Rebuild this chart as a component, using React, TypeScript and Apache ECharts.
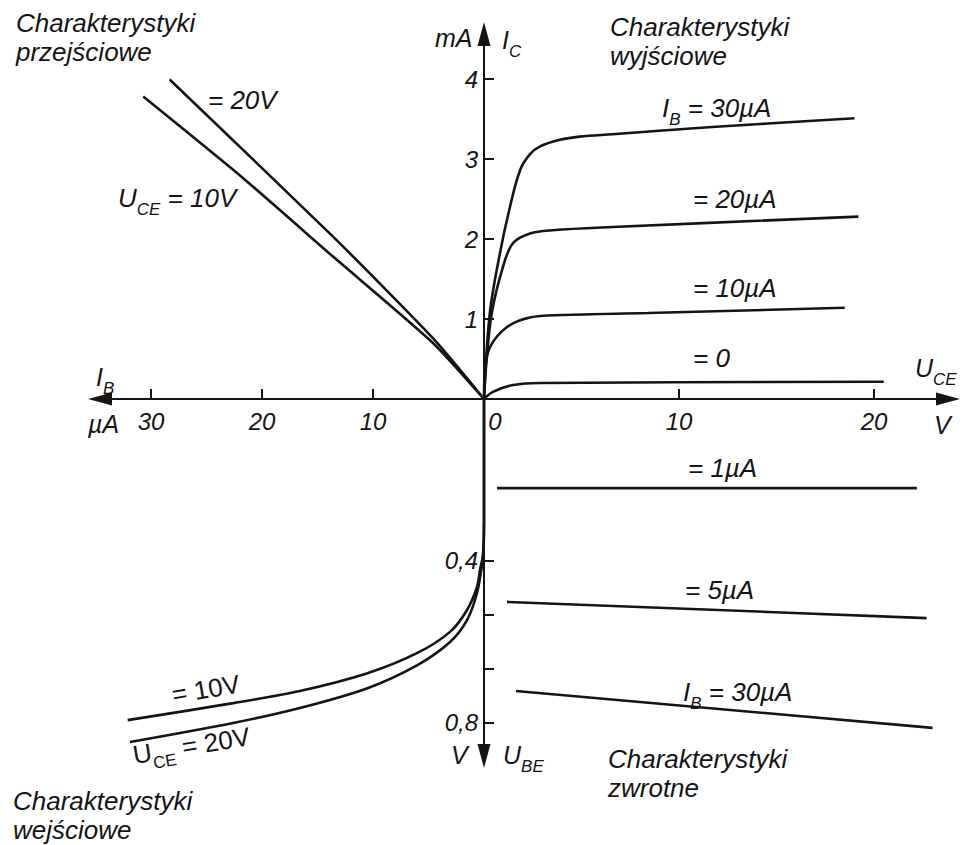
import React, { useEffect, useRef } from 'react';
import * as echarts from 'echarts';

const FONT = '"Liberation Sans", Arial, Helvetica, sans-serif';
const INK = '#141414';

// Quadrant I – output characteristics, I_C [mA] vs U_CE [V]
const out30: number[][] = [[0, 0], [0.3, 1.075], [0.82, 1.825], [1.33, 2.4], [1.85, 2.86], [2.36, 3.06], [2.9, 3.16], [3.9, 3.24], [4.9, 3.28], [6.6, 3.31], [11.7, 3.4], [19.0, 3.51]];
const out20: number[][] = [[0, 0], [0.12, 0.45], [0.4, 1.075], [0.97, 1.65], [1.49, 1.95], [2.36, 2.07], [3.5, 2.11], [6.6, 2.15], [19.2, 2.28]];
const out10: number[][] = [[0, 0], [0.05, 0.36], [0.31, 0.65], [1.18, 0.9], [2.36, 1.02], [4.0, 1.05], [8.4, 1.075], [18.5, 1.14]];
const out0: number[][] = [[0, 0], [0.46, 0.09], [1.5, 0.175], [2.9, 0.2], [20.5, 0.215]];

// Quadrant II – transfer characteristics, I_C [mA] vs I_B [µA]
const tr20: number[][] = [[0, 0], [4.6, 0.76], [13.6, 2.03], [28.3, 3.99]];
const tr10: number[][] = [[0, 0], [4.6, 0.7], [13.6, 1.78], [21.7, 2.76], [30.7, 3.78]];

// Quadrant III – input characteristics, U_BE [V] vs I_B [µA]
const in10: number[][] = [[32.1, 0.793], [22.6, 0.751], [16.6, 0.721], [10.5, 0.677], [6.0, 0.627], [3.06, 0.575], [1.53, 0.521], [0.63, 0.464], [0.36, 0.422], [0.09, 0.385], [0, 0.3], [0, 0]];
const in20: number[][] = [[31.9, 0.847], [22.6, 0.8], [16.6, 0.763], [10.5, 0.714], [6.0, 0.657], [3.06, 0.6], [1.53, 0.546], [0.63, 0.479], [0.18, 0.41], [0.05, 0.373], [0, 0.3], [0, 0]];

// Quadrant IV – feedback characteristics, U_BE [V] vs U_CE [V]
const fb1: number[][] = [[0.67, 0.22], [22.2, 0.22]];
const fb5: number[][] = [[1.18, 0.501], [22.7, 0.541]];
const fb30: number[][] = [[1.64, 0.721], [23.0, 0.812]];

// ticks / labels
const uceTicks = [10, 20];
const uceLabels = [0, 10, 20];
const icTicks = [1, 2, 3, 4];
const ibTicks = [10, 20, 30];
const ubeTicks = [0.4, 0.5333, 0.6667, 0.8];
const ubeLabels = [0.4, 0.8];

const labelStyle = { fontFamily: FONT, fontStyle: 'italic', fontSize: 24, color: INK };
const lineSt = { color: INK, width: 2 };

const rich = (italic: boolean, size = 26) => ({
  n: { fontSize: size, fontFamily: FONT, fontStyle: italic ? 'italic' : 'normal', fill: INK, lineHeight: 40 },
  s: { fontSize: Math.round(size * 0.66), fontFamily: FONT, fontStyle: italic ? 'italic' : 'normal', fill: INK, lineHeight: 22, verticalAlign: 'bottom' },
});

const txt = (x: number, y: number, text: string, o: any = {}) => ({
  type: 'text', x, y, rotation: o.rotation || 0, silent: true,
  style: {
    text, fill: INK, fontFamily: FONT, fontStyle: o.italic === false ? 'normal' : 'italic',
    fontSize: o.size || 26, lineHeight: o.lineHeight, textAlign: 'left', textVerticalAlign: o.va || 'middle',
  },
});
const rtxt = (x: number, y: number, text: string, o: any = {}) => ({
  type: 'text', x, y, rotation: o.rotation || 0, silent: true,
  style: { text, rich: rich(o.italic !== false, o.size || 26), textAlign: 'left', textVerticalAlign: 'middle' },
});

const ser = (data: number[][], i: number, smooth: number | boolean = false) => ({
  type: 'line', data, xAxisIndex: i, yAxisIndex: i, showSymbol: false, symbol: 'none', silent: true,
  smooth, lineStyle: { color: INK, width: 2.6 }, z: 3,
});

export default function App() {
  const ref = useRef<HTMLDivElement>(null);
  useEffect(() => {
    if (!ref.current) return;
    const chart = echarts.init(ref.current, undefined, { renderer: 'svg' });
    const arrowEnd = { show: true, symbol: ['none', 'triangle'], symbolSize: [13, 24], lineStyle: lineSt };
    const arrowStart = { show: true, symbol: ['triangle', 'none'], symbolSize: [13, 24], lineStyle: lineSt };
    const tick = (vals: number[]) => ({ show: true, inside: true, length: 10, customValues: vals, lineStyle: lineSt });
    const hidden = { show: false };
    chart.setOption({
      animation: false,
      backgroundColor: '#fff',
      grid: [
        { left: 484, top: 34, width: 464, height: 365, outerBoundsMode: 'none' },
        { left: 100, top: 34, width: 384, height: 365, outerBoundsMode: 'none' },
        { left: 100, top: 399, width: 384, height: 357, outerBoundsMode: 'none' },
        { left: 484, top: 399, width: 464, height: 357, outerBoundsMode: 'none' },
      ],
      xAxis: [
        {
          type: 'value', gridIndex: 0, min: 0, max: 23.795, position: 'bottom',
          axisLine: arrowEnd, axisTick: tick(uceTicks), splitLine: hidden,
          axisLabel: {
            ...labelStyle, margin: 10, customValues: uceLabels,
            formatter: (v: number) => (v === 0 ? '{z|0}' : String(v)),
            rich: { z: { ...labelStyle, padding: [0, 0, 0, 22] } },
          },
        },
        {
          type: 'value', gridIndex: 1, min: 0, max: 34.595, inverse: true, position: 'bottom',
          axisLine: arrowStart, axisTick: tick(ibTicks), splitLine: hidden,
          axisLabel: { ...labelStyle, margin: 10, customValues: ibTicks },
        },
        { type: 'value', gridIndex: 2, min: 0, max: 34.595, inverse: true, position: 'top', show: false },
        { type: 'value', gridIndex: 3, min: 0, max: 23.795, position: 'top', show: false },
      ],
      yAxis: [
        {
          type: 'value', gridIndex: 0, min: 0, max: 4.5625, position: 'left',
          axisLine: arrowEnd, axisTick: tick(icTicks), splitLine: hidden,
          axisLabel: { ...labelStyle, margin: 6, customValues: icTicks },
        },
        { type: 'value', gridIndex: 1, min: 0, max: 4.5625, position: 'right', show: false },
        { type: 'value', gridIndex: 2, min: 0, max: 0.8815, inverse: true, position: 'right', show: false },
        {
          type: 'value', gridIndex: 3, min: 0, max: 0.8815, inverse: true, position: 'left',
          axisLine: arrowStart, axisTick: tick(ubeTicks), splitLine: hidden,
          axisLabel: {
            ...labelStyle, margin: 6, customValues: ubeLabels,
            formatter: (v: number) => (Math.abs(v - 0.4) < 1e-3 ? '0,4' : Math.abs(v - 0.8) < 1e-3 ? '0,8' : ''),
          },
        },
      ],
      series: [
        ser(out30, 0, 0.35),
        ser(out20, 0, 0.35),
        ser(out10, 0, 0.35),
        ser(out0, 0, 0.35),
        ser(tr20, 1, 0.2),
        ser(tr10, 1, 0.2),
        ser(in10, 2, 0.3),
        ser(in20, 2, 0.3),
        ser(fb1, 3),
        ser(fb5, 3),
        ser(fb30, 3),
      ],
      graphic: [
        txt(16, 8, 'Charakterystyki\nprzejściowe', { va: 'top', lineHeight: 29 }),
        txt(610, 12, 'Charakterystyki\nwyjściowe', { va: 'top', lineHeight: 29 }),
        txt(13, 786, 'Charakterystyki\nwejściowe', { va: 'top', lineHeight: 29 }),
        txt(608, 744, 'Charakterystyki\nzwrotne', { va: 'top', lineHeight: 29 }),
        txt(208, 100, '= 20V'),
        rtxt(118, 198, '{n|U}{s|CE}{n| = 10V}'),
        rtxt(662, 108, '{n|I}{s|B}{n| = 30µA}'),
        txt(693, 199, '= 20µA'),
        txt(693, 288, '= 10µA'),
        txt(693, 358, '= 0'),
        txt(688, 468, '= 1µA'),
        txt(685, 590, '= 5µA'),
        rtxt(683, 692, '{n|I}{s|B}{n| = 30µA}'),
        txt(172, 695, '= 10V', { italic: false, rotation: 0.17 }),
        rtxt(133, 755, '{n|U}{s|CE}{n| = 20V}', { italic: false, rotation: 0.16 }),
        rtxt(96, 377, '{n|I}{s|B}', { size: 25 }),
        txt(88, 424, 'µA', { size: 25 }),
        rtxt(915, 368, '{n|U}{s|CE}', { size: 25 }),
        txt(934, 425, 'V', { size: 25 }),
        txt(435, 38, 'mA', { size: 25 }),
        rtxt(502, 40, '{n|I}{s|C}', { size: 25 }),
        txt(451, 755, 'V', { size: 25 }),
        rtxt(503, 755, '{n|U}{s|BE}', { size: 25 }),
      ],
    });
    return () => chart.dispose();
  }, []);
  return <div ref={ref} style={{ position: 'fixed', left: 0, top: 0, width: 965, height: 845, background: '#fff' }} />;
}
